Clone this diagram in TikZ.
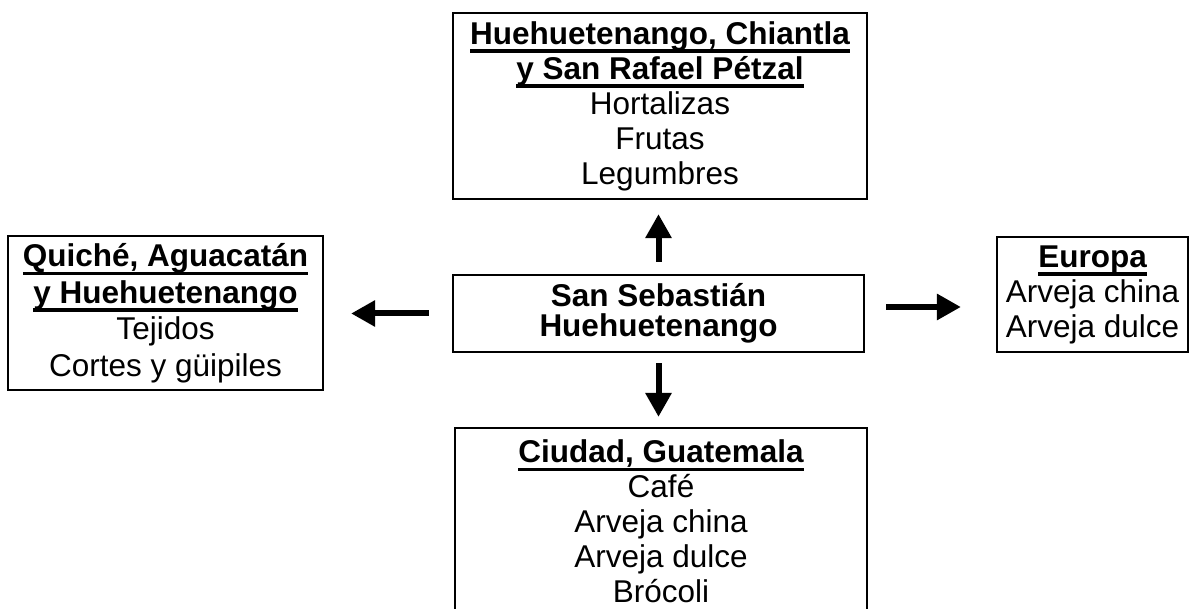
\documentclass[tikz,border=0pt]{standalone}
\usepackage{fontspec}
\setmainfont{Liberation Sans}
\usetikzlibrary{arrows.meta}
\newcommand\myul[1]{\setbox0=\hbox{#1}\rlap{\rule[-8.5pt]{\wd0}{3.2pt}}\box0}
\begin{document}
\begin{tikzpicture}[x=1pt,y=-1pt,
 box/.style={draw, line width=2.2pt, inner sep=0pt, align=center, font=\fontsize{31.5}{35}\selectfont},
 arr/.style={line width=6pt, -{Triangle[width=25pt,length=24pt]}}]
\clip (0,0) rectangle (1189,609);
\fill[white] (0,0) rectangle (1189,609);
\node[box, minimum width=414pt, minimum height=186pt] (t) at (660,106)
 {\textbf{\myul{Huehuetenango, Chiantla}}\\\textbf{\myul{y San Rafael Pétzal}}\\Hortalizas\\Frutas\\Legumbres};
\node[box, minimum width=411pt, minimum height=77pt, font=\fontsize{31.5}{30}\selectfont\bfseries] (c) at (658.5,313.5)
 {San Sebastián\\Huehuetenango};
\node[box, minimum width=315pt, minimum height=154pt, font=\fontsize{31.5}{36.5}\selectfont] (l) at (165.5,313)
 {\textbf{\myul{Quiché, Aguacatán}}\\\textbf{\myul{y Huehuetenango}}\\Tejidos\\Cortes y güipiles};
\node[box, minimum width=191pt, minimum height=115pt] (e) at (1092.5,294.5)
 {\textbf{\myul{Europa}}\\Arveja china\\Arveja dulce};
\node[box, minimum width=412pt, minimum height=186pt] (b) at (661,521)
 {\textbf{\myul{Ciudad, Guatemala}}\\Café\\Arveja china\\Arveja dulce\\Brócoli};
\draw[arr, shorten <=12pt, shorten >=14pt] (c.north) -- (c.north |- t.south);
\draw[arr, shorten <=10pt, shorten >=10pt] (c.south) -- (c.south |- b.north);
\draw[arr, shorten <=23pt, shorten >=27pt] (c.west) -- (c.west -| l.east);
\draw[arr, shorten <=21pt, shorten >=35pt] ([yshift=6.5pt]c.east) -- ([yshift=6.5pt]c.east -| e.west);
\end{tikzpicture}
\end{document}
